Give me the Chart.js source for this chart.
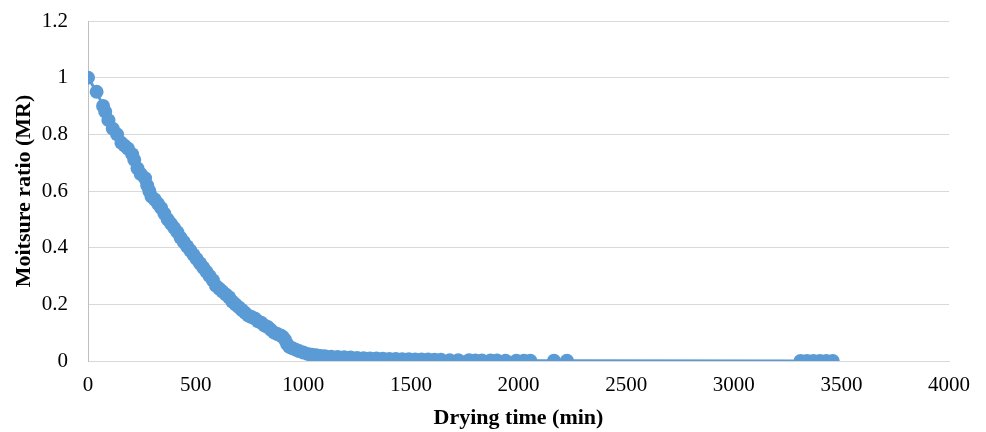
<!DOCTYPE html>
<html>
<head>
<meta charset="utf-8">
<script src="https://cdn.jsdelivr.net/npm/chart.js@4"></script>
<style>
  html, body { margin: 0; padding: 0; background: #fff; }
  #wrap { width: 986px; height: 432px; }
</style>
</head>
<body>
<div id="wrap"><canvas id="mrChart" width="986" height="432"></canvas></div>
<script>
// drying time (min)
const dryingTime = [
    0, 40, 70, 80, 95, 115, 135, 155, 170, 185, 205, 215, 230, 245, 265, 275, 285, 295,
    310, 325, 340, 355, 370, 385, 400, 415, 430, 445, 460, 475, 490, 505, 520, 535, 550,
    565, 580, 595, 610, 625, 640, 655, 670, 685, 700, 715, 730, 745, 760, 775, 790, 805,
    820, 835, 850, 865, 880, 895, 905, 915, 925, 935, 950, 965, 980, 1000, 1020, 1040,
    1060, 1080, 1100, 1130, 1160, 1190, 1220, 1250, 1280, 1310, 1340, 1370, 1400, 1430,
    1460, 1490, 1520, 1550, 1580, 1610, 1640, 1680, 1720, 1770, 1800, 1830, 1870, 1900,
    1940, 1990, 2025, 2055, 2165, 2225, 3310, 3340, 3370, 3400, 3430, 3460
];

// moisture ratio
const moistureRatio = [
    1.0, 0.95, 0.90, 0.88, 0.85, 0.82, 0.80, 0.77, 0.76, 0.75, 0.73, 0.71, 0.68, 0.66, 0.645, 0.62, 0.60, 0.58,
    0.57, 0.555, 0.54, 0.52, 0.50, 0.485, 0.47, 0.455, 0.435, 0.42, 0.405, 0.39, 0.375, 0.36, 0.345, 0.33, 0.315,
    0.30, 0.285, 0.265, 0.255, 0.245, 0.235, 0.225, 0.21, 0.20, 0.19, 0.18, 0.17, 0.16, 0.155, 0.15, 0.14, 0.135,
    0.125, 0.12, 0.11, 0.10, 0.095, 0.09, 0.085, 0.075, 0.06, 0.05, 0.045, 0.04, 0.035, 0.03, 0.025, 0.022,
    0.02, 0.018, 0.017, 0.015, 0.014, 0.013, 0.012, 0.011, 0.01, 0.009, 0.009, 0.008, 0.007, 0.007,
    0.006, 0.006, 0.005, 0.005, 0.005, 0.004, 0.004, 0.003, 0.003, 0.003, 0.002, 0.002, 0.002, 0.002,
    0.001, 0.001, 0.001, 0.001, 0.001, 0.001, 0, 0, 0, 0, 0, 0
];

const xTitle = 'Drying time (min)';
const yTitle = 'Moitsure ratio (MR)';

const points = dryingTime.map((t, i) => ({ x: t, y: moistureRatio[i] }));

const serif = "'Liberation Serif', 'Times New Roman', serif";
const gridColor = '#d9d9d9';

new Chart(document.getElementById('mrChart'), {
    type: 'scatter',
    data: {
        datasets: [
            {
                label: 'MR',
                data: points,
                showLine: true,
                borderColor: '#5b9bd5',
                borderWidth: 3,
                backgroundColor: '#5b9bd5',
                pointRadius: 7,
                pointBorderWidth: 0,
                pointHoverRadius: 7,
                tension: 0
            }
        ]
    },
    options: {
        responsive: false,
        animation: false,
        layout: {
            padding: { top: 21, right: 37, left: 0, bottom: 0 }
        },
        plugins: {
            legend: { display: false },
            tooltip: { enabled: false }
        },
        scales: {
            x: {
                type: 'linear',
                min: 0,
                max: 4000,
                afterFit(scale) {
                    scale.height = 71;
                    scale.paddingLeft = 0;
                    scale.paddingRight = 0;
                },
                ticks: {
                    stepSize: 500,
                    padding: 12,
                    color: '#000',
                    font: { family: serif, size: 21 },
                    callback: v => String(v)
                },
                grid: { display: false, drawTicks: false },
                border: { display: true, color: gridColor, width: 1 },
                title: {
                    display: true,
                    text: xTitle,
                    color: '#000',
                    font: { family: serif, size: 22, weight: 'bold' },
                    padding: { top: 0, bottom: 0 }
                }
            },
            y: {
                type: 'linear',
                min: 0,
                max: 1.2,
                afterFit(scale) {
                    scale.width = 88;
                    scale.paddingTop = 0;
                    scale.paddingBottom = 0;
                },
                ticks: {
                    stepSize: 0.2,
                    padding: 20,
                    color: '#000',
                    font: { family: serif, size: 21 },
                    callback: v => String(Math.round(v * 10) / 10)
                },
                grid: { color: gridColor, lineWidth: 1, drawTicks: false },
                border: { display: true, color: '#bfbfbf', width: 1 },
                title: {
                    display: true,
                    text: yTitle,
                    color: '#000',
                    font: { family: serif, size: 22, weight: 'bold' },
                    padding: { top: 11, bottom: 0 }
                }
            }
        }
    }
});
</script>
</body>
</html>
